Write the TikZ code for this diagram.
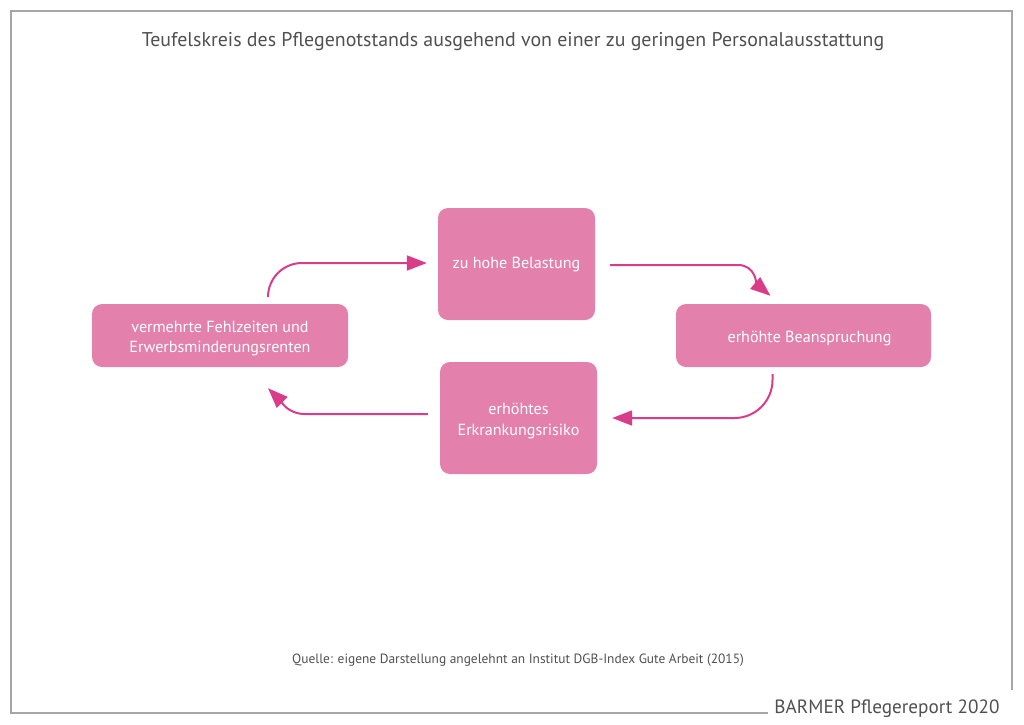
\documentclass[tikz,border=0pt]{standalone}
\usepackage{fontspec}
\setmainfont{PT Sans}
\usetikzlibrary{arrows.meta}
\definecolor{boxpink}{HTML}{E381AC}
\definecolor{arrpink}{HTML}{D93D87}
\definecolor{framegray}{HTML}{A6A6A6}
\definecolor{txtgray}{HTML}{505050}
\newcommand{\lowstrut}{\rule{0pt}{17pt}}
\tikzset{
  stepbox/.style={fill=boxpink, rounded corners=10pt, text=white, align=center,
    font=\fontsize{16.1}{20.5}\selectfont, inner sep=0pt},
  arr/.style={draw=arrpink, line width=2pt, -{Triangle[length=20pt,width=15pt]}},
}
\begin{document}
\begin{tikzpicture}[x=1pt,y=-1pt]
\useasboundingbox (0,0) rectangle (1024,724);
\draw[framegray, line width=2.2pt] (768,713) -- (11,713) -- (11,11) -- (1012,11) -- (1012,690);
\node[text=txtgray, font=\fontsize{19.9}{23}\selectfont] (title) at (513,42) {Teufelskreis des Pflegenotstands ausgehend von einer zu geringen Personalausstattung};
\node[stepbox, minimum width=157pt, minimum height=112pt] (zhb) at (516.5,264) {zu hohe Belastung};
\node[stepbox, minimum width=255pt, minimum height=63pt] (eb) at (803.5,335.5) {\lowstrut\hspace*{12pt}erhöhte Beanspruchung};
\node[stepbox, minimum width=157pt, minimum height=112pt] (eer) at (518.5,418) {\lowstrut erhöhtes\\Erkrankungsrisiko};
\node[stepbox, minimum width=256pt, minimum height=63pt] (vfz) at (220,335.5) {\lowstrut vermehrte Fehlzeiten und\\Erwerbsminderungsrenten};
\draw[arr, rounded corners=34pt] ([xshift=48pt,yshift=11pt]vfz.north) |- ([xshift=-11pt,yshift=1pt]zhb.west);
\draw[arr] ([xshift=15pt,yshift=-1pt]zhb.east) -- (738,265) to[out=0,in=140] ([xshift=-33pt,yshift=8pt]eb.north);
\draw[arr, rounded corners=38pt] ([xshift=-31pt,yshift=-7pt]eb.south) |- ([xshift=15pt]eer.east);
\draw[arr] ([xshift=-12pt,yshift=4pt]eer.west) -- (305,414) to[out=180,in=-45] ([xshift=48pt,yshift=-21pt]vfz.south);
\node[text=txtgray, font=\fontsize{13.4}{16}\selectfont] (src) at (518,660) {Quelle: eigene Darstellung angelehnt an Institut DGB-Index Gute Arbeit (2015)};
\node[text=txtgray, font=\fontsize{19.2}{23}\selectfont, anchor=east] (brand) at (1003,709) {BARMER Pflegereport 2020};
\end{tikzpicture}
\end{document}
